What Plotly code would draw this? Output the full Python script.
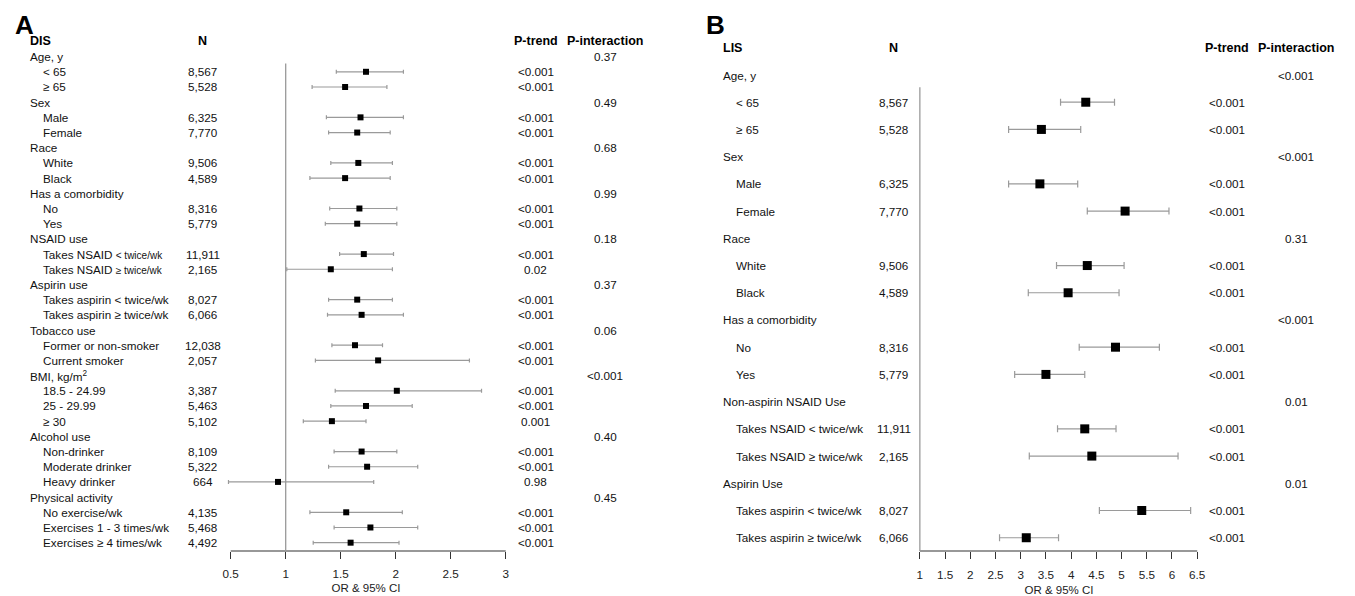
import plotly.graph_objects as go

# The page body has an 8px default margin; the figure is sized and positioned to compensate.
VIEW_W, VIEW_H = 1355, 596
OFF = 8
W, H = VIEW_W - OFF, VIEW_H - OFF

# ---------------- Panel A (DIS) data ----------------
a_labels = ["Age, y", "< 65", "≥ 65", "Sex", "Male", "Female", "Race", "White", "Black",
            "Has a comorbidity", "No", "Yes", "NSAID use",
            "Takes NSAID <span style='font-size:10px'>< twice/wk</span>",
            "Takes NSAID <span style='font-size:10px'>≥ twice/wk</span>",
            "Aspirin use", "Takes aspirin < twice/wk", "Takes aspirin ≥ twice/wk",
            "Tobacco use", "Former or non-smoker", "Current smoker",
            "BMI, kg/m<sup>2</sup>", "18.5 - 24.99", "25 - 29.99", "≥ 30",
            "Alcohol use", "Non-drinker", "Moderate drinker", "Heavy drinker",
            "Physical activity", "No exercise/wk", "Exercises 1 - 3 times/wk", "Exercises ≥ 4 times/wk"]
a_is_group = [1, 0, 0, 1, 0, 0, 1, 0, 0, 1, 0, 0, 1, 0, 0, 1, 0, 0, 1, 0, 0, 1, 0, 0, 0,
              1, 0, 0, 0, 1, 0, 0, 0]
a_n = ["", "8,567", "5,528", "", "6,325", "7,770", "", "9,506", "4,589", "", "8,316", "5,779",
       "", "11,911", "2,165", "", "8,027", "6,066", "", "12,038", "2,057", "", "3,387", "5,463",
       "5,102", "", "8,109", "5,322", "664", "", "4,135", "5,468", "4,492"]
a_or = [None, 1.73, 1.54, None, 1.68, 1.65, None, 1.66, 1.54, None, 1.67, 1.65, None, 1.71, 1.41,
        None, 1.65, 1.69, None, 1.63, 1.84, None, 2.01, 1.73, 1.42, None, 1.69, 1.74, 0.93,
        None, 1.55, 1.77, 1.59]
a_lo = [None, 1.46, 1.24, None, 1.37, 1.39, None, 1.41, 1.22, None, 1.40, 1.36, None, 1.49, 1.01,
        None, 1.39, 1.38, None, 1.42, 1.27, None, 1.45, 1.41, 1.16, None, 1.44, 1.39, 0.48,
        None, 1.22, 1.44, 1.25]
a_hi = [None, 2.07, 1.92, None, 2.07, 1.95, None, 1.97, 1.95, None, 2.01, 2.01, None, 1.98, 1.97,
        None, 1.97, 2.07, None, 1.88, 2.67, None, 2.78, 2.15, 1.73, None, 2.01, 2.20, 1.80,
        None, 2.06, 2.20, 2.03]
a_ptrend = ["", "<0.001", "<0.001", "", "<0.001", "<0.001", "", "<0.001", "<0.001", "",
            "<0.001", "<0.001", "", "<0.001", "0.02", "", "<0.001", "<0.001", "", "<0.001",
            "<0.001", "", "<0.001", "<0.001", "0.001", "", "<0.001", "<0.001", "0.98", "",
            "<0.001", "<0.001", "<0.001"]
a_pint = ["0.37", "", "", "0.49", "", "", "0.68", "", "", "0.99", "", "", "0.18", "", "",
          "0.37", "", "", "0.06", "", "", "<0.001", "", "", "", "0.40", "", "", "", "0.45", "", "", ""]
a_ticks = [0.5, 1, 1.5, 2, 2.5, 3]

# ---------------- Panel B (LIS) data ----------------
b_labels = ["Age, y", "< 65", "≥ 65", "Sex", "Male", "Female", "Race", "White", "Black",
            "Has a comorbidity", "No", "Yes", "Non-aspirin NSAID Use",
            "Takes NSAID < twice/wk", "Takes NSAID ≥ twice/wk", "Aspirin Use",
            "Takes aspirin < twice/wk", "Takes aspirin ≥ twice/wk"]
b_is_group = [1, 0, 0, 1, 0, 0, 1, 0, 0, 1, 0, 0, 1, 0, 0, 1, 0, 0]
b_n = ["", "8,567", "5,528", "", "6,325", "7,770", "", "9,506", "4,589", "", "8,316", "5,779",
       "", "11,911", "2,165", "", "8,027", "6,066"]
b_or = [None, 4.29, 3.41, None, 3.38, 5.07, None, 4.32, 3.94, None, 4.88, 3.50, None, 4.27, 4.41,
        None, 5.40, 3.11]
b_lo = [None, 3.79, 2.76, None, 2.76, 4.32, None, 3.71, 3.15, None, 4.16, 2.88, None, 3.73, 3.17,
        None, 4.56, 2.58]
b_hi = [None, 4.86, 4.19, None, 4.13, 5.94, None, 5.05, 4.95, None, 5.75, 4.27, None, 4.89, 6.12,
        None, 6.37, 3.75]
b_ptrend = ["", "<0.001", "<0.001", "", "<0.001", "<0.001", "", "<0.001", "<0.001", "",
            "<0.001", "<0.001", "", "<0.001", "<0.001", "", "<0.001", "<0.001"]
b_pint = ["<0.001", "", "", "<0.001", "", "", "0.31", "", "", "<0.001", "", "", "0.01", "", "",
          "0.01", "", ""]
b_ticks = [1, 1.5, 2, 2.5, 3, 3.5, 4, 4.5, 5, 5.5, 6, 6.5]

FONT = "Liberation Sans, Arial, sans-serif"
GRAY = "#9a9a9a"
AXC = "#333333"
AXIS_PX = 551 - OFF  # figure-pixel y of x-axis line


def px(x):
    """page x pixel -> paper fraction"""
    return (x - OFF) / W


def py(y):
    """page y pixel -> paper fraction"""
    return 1 - (y - OFF) / H


def x_domain(r0, r1, a, pa, b, pb):
    pa, pb = pa - OFF, pb - OFF
    s = (pb - pa) / (b - a)
    left = pa - (a - r0) * s
    right = pb + (r1 - b) * s
    return [left / W, right / W]


def y_range(first_px, step_px):
    first_px = first_px - OFF
    top = (0 - first_px) / step_px
    bot = (AXIS_PX - first_px) / step_px
    return [bot, top]


fig = go.Figure()

panels = [
    dict(lab=a_labels, grp=a_is_group, n=a_n, orv=a_or, lo=a_lo, hi=a_hi, pt=a_ptrend, pi=a_pint,
         ticks=a_ticks, xr=[0.44, 3.02], xa=(0.5, 230.0, 3.0, 506.7), first=56.6, step=15.19,
         xname="x", yname="y", head="DIS", msize=6, cap=2, tstand=5, title_stand=4,
         x_grp=26, x_sub=39, x_n=202, x_pt=537, x_pi=607, letter="A", letter_x=11, fs=11.7),
    dict(lab=b_labels, grp=b_is_group, n=b_n, orv=b_or, lo=b_lo, hi=b_hi, pt=b_ptrend, pi=b_pint,
         ticks=b_ticks, xr=[0.97, 6.55], xa=(1.0, 923.3, 6.5, 1202.3), first=75.0, step=27.22,
         xname="x2", yname="y2", head="LIS", msize=9, cap=3.5, tstand=6, title_stand=5,
         x_grp=723, x_sub=736, x_n=897, x_pi=1302, x_pt=1232, letter="B", letter_x=706, fs=11.7),
]

annotations = []
shapes = []
layout_axes = {}
for k, p in enumerate(panels):
    rows = list(range(len(p["lab"])))
    xs, ys, em, ep = [], [], [], []
    for i in rows:
        if p["orv"][i] is not None:
            xs.append(p["orv"][i])
            ys.append(i)
            em.append(p["orv"][i] - p["lo"][i])
            ep.append(p["hi"][i] - p["orv"][i])
    fig.add_trace(go.Scatter(
        x=xs, y=ys, mode="markers", xaxis=p["xname"], yaxis=p["yname"],
        marker=dict(symbol="square", size=p["msize"], color="black", line=dict(width=0)),
        error_x=dict(type="data", array=ep, arrayminus=em, color=GRAY, thickness=1.2,
                     width=p["cap"]),
        cliponaxis=False, showlegend=False, hoverinfo="skip"))

    xd = x_domain(p["xr"][0], p["xr"][1], *p["xa"])
    ax_suffix = "" if k == 0 else "2"
    layout_axes["xaxis" + ax_suffix] = dict(
        domain=xd, range=p["xr"], tickvals=p["ticks"], ticktext=[f"{t:g}" for t in p["ticks"]],
        ticks="outside", ticklen=7, tickwidth=1, tickcolor=AXC, showline=False, showgrid=False,
        zeroline=False, tickfont=dict(family=FONT, size=11.7, color="#222"),
        ticklabelstandoff=p["tstand"],
        title=dict(text="OR & 95% CI", font=dict(family=FONT, size=11.5, color="#222"),
                   standoff=p["title_stand"]),
        anchor=p["yname"], fixedrange=True)
    layout_axes["yaxis" + ax_suffix] = dict(
        domain=[(H - AXIS_PX) / H, 1], range=y_range(p["first"], p["step"]), visible=False,
        anchor=p["xname"], fixedrange=True)

    shapes.append(dict(type="line", xref=p["xname"], yref=p["yname"] + " domain",
                       x0=p["ticks"][0], x1=p["ticks"][-1], y0=0, y1=0,
                       line=dict(color=AXC, width=1.2)))
    first_sub = min(i for i in rows if not p["grp"][i])
    shapes.append(dict(type="line", xref=p["xname"], yref=p["yname"],
                       x0=1, x1=1, y0=first_sub - 0.55, y1=y_range(p["first"], p["step"])[0],
                       line=dict(color=GRAY, width=1.3)))

    yr = p["yname"]
    fs = p["fs"]
    hdr = -1
    annotations.append(dict(text="<b>" + p["head"] + "</b>", x=px(p["x_grp"]), xref="paper",
                            y=hdr, yref=yr, xanchor="left", yanchor="middle", showarrow=False,
                            font=dict(family=FONT, size=12.5, color="black")))
    for txt, xc in [("N", p["x_n"]), ("P-trend", p["x_pt"]), ("P-interaction", p["x_pi"])]:
        annotations.append(dict(text="<b>" + txt + "</b>", x=px(xc), xref="paper", y=hdr, yref=yr,
                                xanchor="center", yanchor="middle", showarrow=False,
                                font=dict(family=FONT, size=12.5, color="black")))
    annotations.append(dict(text="<b>" + p["letter"] + "</b>", x=px(p["letter_x"]), xref="paper",
                            y=py(25), yref="paper", xanchor="left", yanchor="middle",
                            showarrow=False, font=dict(family=FONT, size=26, color="black")))
    for i in rows:
        xl = p["x_grp"] if p["grp"][i] else p["x_sub"]
        annotations.append(dict(text=p["lab"][i], x=px(xl), xref="paper", y=i, yref=yr,
                                xanchor="left", yanchor="middle", showarrow=False,
                                font=dict(family=FONT, size=fs, color="#111")))
        for col, xc in [("n", p["x_n"]), ("pt", p["x_pt"]), ("pi", p["x_pi"])]:
            t = p[col][i]
            if t:
                annotations.append(dict(text=t, x=px(xc), xref="paper", y=i, yref=yr,
                                        xanchor="center", yanchor="middle", showarrow=False,
                                        font=dict(family=FONT, size=fs, color="#111")))

fig.update_layout(
    width=W, height=H, margin=dict(l=0, r=0, t=0, b=0),
    paper_bgcolor="white", plot_bgcolor="white",
    annotations=annotations, shapes=shapes, showlegend=False,
    **layout_axes)

fig.write_html("out.html", config={"displayModeBar": False})
